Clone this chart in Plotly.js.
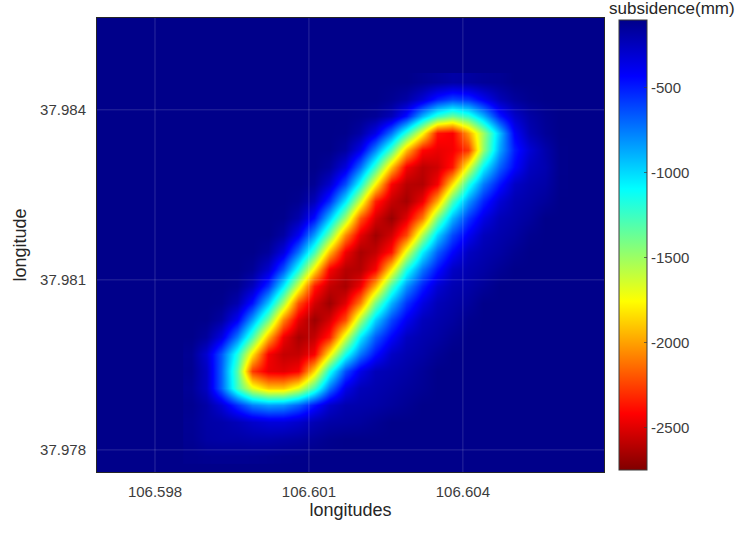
<!DOCTYPE html>
<html>
<head>
<meta charset="utf-8">
<script src="https://cdn.plot.ly/plotly-3.0.1.min.js"></script>
<style>html,body{margin:0;padding:0;background:#fff;}#chart{width:736px;height:533px;}</style>
</head>
<body>
<div id="chart"></div>
<script>
// grid longitudes (columns) and latitudes (rows, bottom to top)
const lons = [106.5987,106.5990,106.5993,106.5996,106.5999,106.6002,106.6005,106.6008,106.6011,106.6014,106.6017,106.6020,106.6023,106.6026,106.6029,106.6032,106.6035,106.6038,106.6041,106.6044,106.6047,106.6050,106.6053,106.6056,106.6059];
const lats = [37.9779,37.9782,37.9785,37.9788,37.9791,37.9794,37.9797,37.9800,37.9803,37.9806,37.9809,37.9812,37.9815,37.9818,37.9821,37.9824,37.9827,37.9830,37.9833,37.9836,37.9839,37.9842,37.9845];

// subsidence (mm), one array per latitude row (bottom row first)
const row00 = [-110,-118,-120,-120,-118,-112,-106,-103,-100,-100,-100,-100,-100,-100,-100,-100,-100,-100,-100,-100,-100,-100,-100,-100,-100];
const row01 = [-125,-170,-180,-180,-193,-193,-180,-166,-140,-113,-100,-100,-100,-100,-100,-100,-100,-100,-100,-100,-100,-100,-100,-100,-100];
const row02 = [-130,-180,-193,-233,-286,-325,-325,-286,-219,-180,-166,-153,-127,-100,-100,-100,-100,-100,-100,-100,-100,-100,-100,-100,-100];
const row03 = [-118,-180,-312,-551,-763,-842,-816,-683,-471,-286,-206,-193,-180,-153,-127,-100,-100,-100,-100,-100,-100,-100,-100,-100,-100];
const row04 = [-135,-259,-683,-1266,-1690,-1902,-1902,-1690,-1266,-736,-365,-233,-206,-180,-153,-127,-100,-100,-100,-100,-100,-100,-100,-100,-100];
const row05 = [-120,-259,-683,-1319,-2273,-2472,-2496,-2424,-1849,-1160,-630,-365,-233,-206,-180,-140,-100,-100,-100,-100,-100,-100,-100,-100,-100];
const row06 = [-125,-299,-657,-1171,-1817,-2437,-2571,-2571,-2429,-1791,-1152,-736,-466,-267,-211,-177,-132,-100,-100,-100,-100,-100,-100,-100,-100];
const row07 = [-100,-156,-349,-755,-1282,-1952,-2461,-2641,-2571,-2347,-1656,-1051,-667,-429,-254,-203,-172,-127,-100,-100,-100,-100,-100,-100,-100];
const row08 = [-100,-105,-174,-410,-861,-1404,-2085,-2496,-2673,-2530,-2212,-1520,-969,-609,-392,-240,-198,-164,-113,-100,-100,-100,-100,-100,-100];
const row09 = [-100,-100,-111,-206,-474,-953,-1526,-2217,-2533,-2673,-2496,-2080,-1399,-895,-561,-349,-230,-190,-153,-100,-100,-100,-100,-100,-100];
const row10 = [-100,-100,-100,-121,-246,-553,-1051,-1656,-2353,-2571,-2641,-2461,-1947,-1279,-816,-511,-307,-217,-185,-142,-100,-100,-100,-100,-100];
const row11 = [-100,-100,-100,-100,-134,-291,-643,-1152,-1796,-2432,-2607,-2615,-2435,-1812,-1171,-741,-474,-270,-211,-177,-132,-100,-100,-100,-100];
const row12 = [-100,-100,-100,-100,-100,-153,-341,-736,-1266,-1929,-2456,-2641,-2575,-2368,-1679,-1067,-678,-434,-256,-206,-172,-127,-100,-100,-100];
const row13 = [-100,-100,-100,-100,-100,-100,-172,-399,-845,-1383,-2064,-2488,-2663,-2538,-2236,-1542,-982,-617,-397,-243,-198,-166,-116,-100,-100];
const row14 = [-100,-100,-100,-100,-100,-100,-108,-201,-463,-943,-1507,-2196,-2527,-2684,-2498,-2101,-1414,-903,-566,-357,-230,-193,-156,-100,-100];
const row15 = [-100,-100,-100,-100,-100,-100,-100,-121,-238,-543,-1041,-1640,-2337,-2567,-2652,-2464,-1963,-1293,-826,-519,-312,-219,-185,-145,-100];
const row16 = [-100,-100,-100,-100,-100,-100,-100,-100,-132,-286,-630,-1139,-1772,-2429,-2603,-2619,-2437,-1828,-1184,-752,-479,-270,-211,-180,-106];
const row17 = [-100,-100,-100,-100,-100,-100,-100,-100,-100,-150,-336,-725,-1247,-1913,-2448,-2591,-2541,-2366,-1690,-1081,-686,-439,-256,-206,-108];
const row18 = [-100,-100,-100,-100,-100,-100,-100,-100,-100,-100,-164,-373,-786,-1290,-1929,-2406,-2472,-2440,-2273,-1475,-869,-498,-312,-193,-106];
const row19 = [-100,-100,-100,-100,-100,-100,-100,-100,-100,-100,-108,-180,-365,-736,-1213,-1743,-2379,-2432,-2008,-1500,-940,-418,-219,-140,-100];
const row20 = [-100,-100,-100,-100,-100,-100,-100,-100,-100,-100,-100,-113,-140,-233,-471,-895,-1213,-1372,-1213,-895,-498,-286,-180,-127,-100];
const row21 = [-100,-100,-100,-100,-100,-100,-100,-100,-100,-100,-100,-100,-100,-127,-180,-312,-498,-604,-551,-392,-233,-153,-113,-100,-100];
const row22 = [-100,-100,-100,-100,-100,-100,-100,-100,-100,-100,-100,-100,-100,-100,-100,-127,-153,-180,-166,-140,-127,-100,-100,-100,-100];

const xTickVals = [106.598, 106.601, 106.604];
const xTickText = ['106.598', '106.601', '106.604'];
const yTickVals = [37.978, 37.981, 37.984];
const yTickText = ['37.978', '37.981', '37.984'];
const cbTickVals = [-500, -1000, -1500, -2000, -2500];
const cbTickText = ['-500', '-1000', '-1500', '-2000', '-2500'];

const zGrid = [row00,row01,row02,row03,row04,row05,row06,row07,row08,row09,row10,row11,row12,row13,row14,row15,row16,row17,row18,row19,row20,row21,row22];

const navy = 'rgb(0,0,138)';
const jetRev = [
  [0, 'rgb(128,0,0)'],
  [0.125, 'rgb(255,0,0)'],
  [0.375, 'rgb(255,255,0)'],
  [0.625, 'rgb(0,255,255)'],
  [0.875, 'rgb(0,0,255)'],
  [1, navy]
];

const fontFam = '"Liberation Sans", Arial, Helvetica, sans-serif';

const trace = {
  type: 'heatmap',
  x: lons,
  y: lats,
  z: zGrid,
  zmin: -2750,
  zmax: -100,
  zsmooth: 'best',
  colorscale: jetRev,
  hoverinfo: 'skip',
  colorbar: {
    x: 1.0296, xanchor: 'left', xpad: 0,
    y: 0.5, yanchor: 'middle', ypad: 0,
    thickness: 28, thicknessmode: 'pixels',
    len: 450, lenmode: 'pixels',
    outlinewidth: 1, outlinecolor: '#3a3a3a',
    tickvals: cbTickVals, ticktext: cbTickText,
    ticks: 'inside', ticklen: 3, tickcolor: 'rgba(60,60,60,0.7)',
    tickfont: {family: fontFam, size: 15, color: '#3c3c3c'}
  }
};

const gridColor = 'rgba(255,255,255,0.16)';
const shapes = [];
xTickVals.forEach(v => shapes.push({type:'line', xref:'x', yref:'paper', x0:v, x1:v, y0:0, y1:1, line:{color:gridColor, width:1}, layer:'above'}));
yTickVals.forEach(v => shapes.push({type:'line', xref:'paper', yref:'y', x0:0, x1:1, y0:v, y1:v, line:{color:gridColor, width:1}, layer:'above'}));

const layout = {
  width: 736, height: 533,
  margin: {l: 97, r: 132, t: 18, b: 61},
  paper_bgcolor: '#ffffff',
  plot_bgcolor: navy,
  font: {family: fontFam, color: '#3c3c3c'},
  xaxis: {
    range: [106.59687, 106.60675],
    tickvals: xTickVals, ticktext: xTickText,
    showgrid: false, zeroline: false,
    showline: true, mirror: true, linecolor: '#262626', linewidth: 1,
    ticks: '', ticklabelstandoff: 6,
    tickfont: {family: fontFam, size: 15, color: '#3c3c3c'},
    title: {text: 'longitudes', font: {family: fontFam, size: 18, color: '#262626'}, standoff: 4}
  },
  yaxis: {
    range: [37.97761, 37.98562],
    tickvals: yTickVals, ticktext: yTickText,
    showgrid: false, zeroline: false,
    showline: true, mirror: true, linecolor: '#262626', linewidth: 1,
    ticks: '', ticklabelstandoff: 7,
    tickfont: {family: fontFam, size: 15, color: '#3c3c3c'},
    title: {text: 'longitude', font: {family: fontFam, size: 18, color: '#262626'}, standoff: 8}
  },
  shapes: shapes,
  annotations: [{
    text: 'subsidence(mm)', xref: 'paper', yref: 'paper',
    x: 1.134, y: 1.021, xanchor: 'center', yanchor: 'middle', showarrow: false,
    font: {family: fontFam, size: 17, color: '#262626'}
  }]
};

Plotly.newPlot('chart', [trace], layout, {displayModeBar: false, staticPlot: true});
</script>
</body>
</html>
